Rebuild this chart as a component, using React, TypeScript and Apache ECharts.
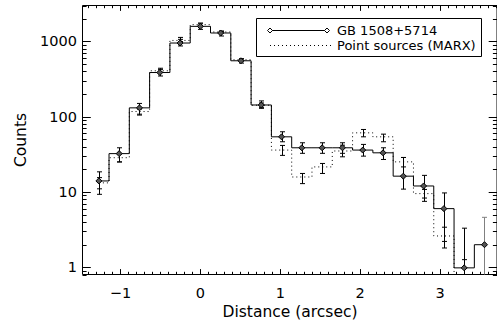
import React, { useEffect, useRef } from 'react';
import * as echarts from 'echarts';

// bin centres (arcsec)
const distance = [-1.27, -1.016, -0.762, -0.508, -0.254, 0, 0.254, 0.508, 0.762, 1.016, 1.27, 1.524, 1.778, 2.032, 2.286, 2.54, 2.794, 3.048, 3.302, 3.556];

// GB 1508+5714 profile
const sourceCounts = [14.0, 32.3, 131, 386, 952, 1585, 1294, 553, 143, 54, 38.6, 38.6, 38.6, 36, 33.1, 16.2, 12.0, 6.0, 0.98, 1.99];
const sourceHigh = [18.5, 38.6, 150, 440, 1130, 1757, 1360, 582, 162, 63, 45, 45, 45, 42.8, 38.6, 28.7, 16.6, 9.7, 3.3, 4.6];
const sourceLow = [9.3, 25.1, 105, 347, 870, 1445, 1180, 515, 129, 46.4, 32.6, 32.6, 32.6, 29.9, 27, 10.9, 7.5, 1.8, 0, 0];

// Point sources (MARX) profile
const marxCounts = [13.2, 28.5, 117, 407, 1030, 1670, 1334, 570, 142, 36, 15.8, 21.5, 35, 61, 54, 25.1, 9.5, 2.6, 0, 0];
const marxHigh = [15.5, 32, 126, 425, 1065, 1715, 1375, 590, 152, 41.5, 17.6, 23.9, 41.8, 67.6, 58.6, 28.7, 10.8, 3.4, 1.26, 0];
const marxLow = [11, 25, 108, 390, 995, 1625, 1295, 550, 133, 30.6, 12.9, 17.6, 29.3, 54, 46.4, 21.5, 8.3, 2.2, 0, 0];

const xMajorTicks = [-1, 0, 1, 2, 3];
const xTickLabels = ['\u22121', '0', '1', '2', '3'];
const yMajorTicks = [1, 10, 100, 1000];
const yTickLabels = ['1', '10', '100', '1000'];
const xRange = [-1.475, 3.7125];
const yRange = [0.8, 3000];
const seriesNames = ['GB 1508+5714', 'Point sources (MARX)'];
const axisTitles = ['Distance (arcsec)', 'Counts'];

const FLOOR = 0.1; // values at/below zero are drawn below the axis (clipped)
const FONT = 'DejaVu Sans';

function txt(text: string, x: number, y: number, size: number, align: string, valign: string, extra: any = {}) {
  return {
    type: 'text',
    ...extra,
    style: {
      text, x, y, fill: '#000', font: `${size}px "${FONT}"`,
      align, verticalAlign: valign, textAlign: align, textVerticalAlign: valign,
    },
  };
}

export default function App() {
  const ref = useRef<HTMLDivElement>(null);
  useEffect(() => {
    if (!ref.current) return;
    const chart = echarts.init(ref.current, undefined, { renderer: 'svg' });

    const lineEl = (x1: number, y1: number, x2: number, y2: number, stroke = '#000', dash?: number[]) => ({
      type: 'line',
      shape: { x1, y1, x2, y2 },
      style: { stroke, lineWidth: 1, lineDash: dash },
    });

    const errorSeries = (low: number[], high: number[], name: string) => ({
      type: 'custom',
      name,
      clip: true,
      z: 2,
      data: distance.map((x, i) => [x, Math.max(low[i], FLOOR), Math.max(high[i], FLOOR)]),
      encode: { x: 0, y: [1, 2] },
      renderItem: (params: any, api: any) => {
        const x = api.value(0);
        const pLo = api.coord([x, api.value(1)]);
        const pHi = api.coord([x, api.value(2)]);
        const cx = Math.round(pLo[0]) + 0.5;
        const color = name === 'src' && params.dataIndex === distance.length - 1 ? '#808080' : '#000';
        const cap = 2.5;
        return {
          type: 'group',
          children: [
            lineEl(cx, pLo[1], cx, pHi[1], color),
            lineEl(cx - cap, pHi[1], cx + cap, pHi[1], color),
            lineEl(cx - cap, pLo[1], cx + cap, pLo[1], color),
          ],
        };
      },
    });

    const frameSeries = {
      type: 'custom',
      clip: false,
      silent: true,
      z: 5,
      data: [[1, 1]],
      renderItem: (params: any, api: any) => {
        const cs = params.coordSys;
        const left = cs.x, top = cs.y, right = cs.x + cs.width, bottom = cs.y + cs.height;
        const children: any[] = [];
        const xMaj = 5.4, xMin = 2.7, yMaj = 8.3, yMin = 4.1;
        // x ticks
        for (let i = Math.ceil(xRange[0] * 10); i <= Math.floor(xRange[1] * 10); i++) {
          const v = i / 10;
          const isMaj = i % 10 === 0;
          const px = Math.round(api.coord([v, 1])[0]) + 0.5;
          const len = isMaj ? xMaj : xMin;
          children.push(lineEl(px, bottom, px, bottom - len));
          children.push(lineEl(px, top, px, top + len));
        }
        xMajorTicks.forEach((v, i) => {
          const px = api.coord([v, 1])[0];
          children.push(txt(xTickLabels[i], px, bottom + 18.5, 14.5, 'center', 'middle'));
        });
        // y ticks
        for (let p = -1; p <= 3; p++) {
          for (let m = 1; m <= 9; m++) {
            const v = m * Math.pow(10, p);
            if (v < yRange[0] - 1e-9 || v > yRange[1] + 1e-9) continue;
            const py = Math.round(api.coord([0, v])[1]) + 0.5;
            const len = m === 1 ? yMaj : yMin;
            children.push(lineEl(left, py, left + len, py));
            children.push(lineEl(right, py, right - len, py));
          }
        }
        yMajorTicks.forEach((v, i) => {
          const py = api.coord([0, v])[1];
          children.push(txt(yTickLabels[i], left - 5.5, py, 14.5, 'right', 'middle'));
        });
        return { type: 'group', children };
      },
    };

    chart.setOption({
      animation: false,
      backgroundColor: '#fff',
      grid: {
        left: 82.5, top: 5.5, width: 415, height: 269,
        show: true, borderColor: '#000', borderWidth: 1, backgroundColor: 'transparent',
      },
      xAxis: {
        type: 'value', min: xRange[0], max: xRange[1],
        axisLine: { show: false }, axisTick: { show: false }, axisLabel: { show: false }, splitLine: { show: false },
      },
      yAxis: {
        type: 'log', logBase: 10, min: yRange[0], max: yRange[1],
        axisLine: { show: false }, axisTick: { show: false }, axisLabel: { show: false }, splitLine: { show: false },
      },
      graphic: [
        { type: 'rect', shape: { x: 256.5, y: 18.5, width: 225, height: 38 }, style: { fill: '#fff', stroke: '#000', lineWidth: 1 }, z: 10 },
        { type: 'line', shape: { x1: 270, y1: 30.5, x2: 327, y2: 30.5 }, style: { stroke: '#000', lineWidth: 1 }, z: 11 },
        { type: 'polygon', shape: { points: [[270, 28], [272.5, 30.5], [270, 33], [267.5, 30.5]] }, style: { fill: '#fff', stroke: '#000', lineWidth: 1 }, z: 12 },
        { type: 'polygon', shape: { points: [[327, 28], [329.5, 30.5], [327, 33], [324.5, 30.5]] }, style: { fill: '#fff', stroke: '#000', lineWidth: 1 }, z: 12 },
        { type: 'line', shape: { x1: 270, y1: 45.5, x2: 331, y2: 45.5 }, style: { stroke: '#000', lineWidth: 1, lineDash: [1, 3] }, z: 11 },
        { ...txt(seriesNames[0], 337, 30.5, 13, 'left', 'middle'), z: 12 },
        { ...txt(seriesNames[1], 337, 45.5, 13, 'left', 'middle'), z: 12 },
        { ...txt(axisTitles[0], 290, 311.5, 15.5, 'center', 'middle'), z: 12 },
        { ...txt(axisTitles[1], 0, 0, 15.5, 'center', 'middle', { x: 20.5, y: 140, rotation: Math.PI / 2 }), z: 12 },
      ],
      series: [
        errorSeries(marxLow, marxHigh, 'marx'),
        errorSeries(sourceLow, sourceHigh, 'src'),
        {
          type: 'line', name: seriesNames[1], step: 'middle', z: 3,
          data: distance.map((x, i) => [x, Math.max(marxCounts[i], FLOOR)]),
          symbol: 'none', showSymbol: false,
          lineStyle: { color: '#000', width: 1, type: [1, 3] },
          clip: true,
        },
        {
          type: 'line', name: seriesNames[0], step: 'middle', z: 4,
          data: distance.map((x, i) => [x, Math.max(sourceCounts[i], FLOOR)]),
          symbol: 'diamond', symbolSize: 6, showSymbol: true,
          itemStyle: { color: '#555', borderColor: '#000', borderWidth: 1 },
          lineStyle: { color: '#000', width: 1 },
          clip: true,
        },
        frameSeries,
      ],
    });
    return () => chart.dispose();
  }, []);
  return <div ref={ref} style={{ position: 'fixed', left: 0, top: 0, width: 497, height: 321 }} />;
}
